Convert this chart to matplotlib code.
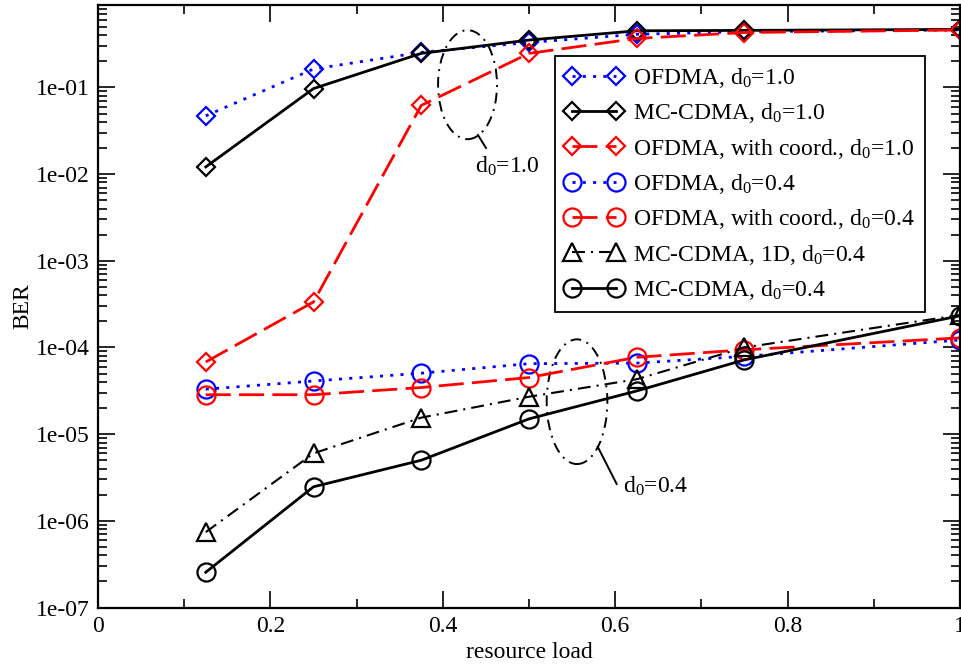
import matplotlib
matplotlib.use("Agg")
import matplotlib.pyplot as plt
from matplotlib.patches import Ellipse
from matplotlib.ticker import FixedLocator, FixedFormatter, LogLocator, NullFormatter, MultipleLocator

plt.rcParams['font.family'] = ['Liberation Serif', 'DejaVu Serif']
plt.rcParams['mathtext.fontset'] = 'custom'
plt.rcParams['mathtext.rm'] = 'Liberation Serif'
plt.rcParams['mathtext.it'] = 'Liberation Serif:italic'
plt.rcParams['mathtext.bf'] = 'Liberation Serif:bold'

# resource load values
load = [0.125, 0.25, 0.375, 0.5, 0.625, 0.75, 1.0]

# BER curves, d0 = 1.0
ofdma_d10 = [0.047, 0.163, 0.254, 0.33, 0.41, 0.44, 0.46]
mccdma_d10 = [0.0121, 0.097, 0.247, 0.352, 0.45, 0.455, 0.467]
ofdma_coord_d10 = [6.8e-5, 3.35e-4, 0.062, 0.247, 0.367, 0.43, 0.46]

# BER curves, d0 = 0.4
ofdma_d04 = [3.3e-5, 4.1e-5, 5.05e-5, 6.5e-5, 6.6e-5, 7.9e-5, 1.22e-4]
ofdma_coord_d04 = [2.85e-5, 2.85e-5, 3.45e-5, 4.5e-5, 7.7e-5, 9.4e-5, 1.29e-4]
mccdma_1d_d04 = [7.4e-7, 6.0e-6, 1.55e-5, 2.7e-5, 4.3e-5, 1.0e-4, 2.37e-4]
mccdma_d04 = [2.55e-7, 2.47e-6, 5.0e-6, 1.5e-5, 3.15e-5, 7.2e-5, 2.32e-4]

labels = [
    r"OFDMA, d$_\mathrm{0}$=1.0",
    r"MC-CDMA, d$_\mathrm{0}$=1.0",
    r"OFDMA, with coord., d$_\mathrm{0}$=1.0",
    r"OFDMA, d$_\mathrm{0}$=0.4",
    r"OFDMA, with coord., d$_\mathrm{0}$=0.4",
    r"MC-CDMA, 1D, d$_\mathrm{0}$=0.4",
    r"MC-CDMA, d$_\mathrm{0}$=0.4",
]

y_major = [1e-7, 1e-6, 1e-5, 1e-4, 1e-3, 1e-2, 1e-1]
y_major_labels = ["1e-07", "1e-06", "1e-05", "1e-04", "1e-03", "1e-02", "1e-01"]
x_major = [0, 0.2, 0.4, 0.6, 0.8, 1.0]
x_major_labels = ["0", "0.2", "0.4", "0.6", "0.8", "1"]

FS = 17

fig = plt.figure(figsize=(9.62, 6.66), dpi=100)
ax = fig.add_axes([98 / 962, 1 - 607.5 / 666, 862 / 962, 602.8 / 666])

dotted = (0, (1.1, 2.6))
dashed = (0, (9, 3))
dashdot = (0, (6.2, 2.9, 1.0, 2.9))
common = dict(mfc='none', mew=1.6, lw=2.0, clip_on=False)

ax.plot(load, ofdma_d10, color='blue', marker='D', ms=9, ls=dotted, label=labels[0], **common)
ax.plot(load, mccdma_d10, color='black', marker='D', ms=9, ls='-', label=labels[1], **common)
ax.plot(load, ofdma_coord_d10, color='red', marker='D', ms=9, ls=dashed, label=labels[2], **common)
ax.plot(load, ofdma_d04, color='blue', marker='o', ms=13, ls=dotted, label=labels[3], **common)
ax.plot(load, ofdma_coord_d04, color='red', marker='o', ms=13, ls=dashed, label=labels[4], **common)
ax.plot(load, mccdma_1d_d04, color='black', marker='^', ms=13, ls=dashdot, label=labels[5],
        mfc='none', mew=1.6, lw=1.5, clip_on=False)
ax.plot(load, mccdma_d04, color='black', marker='o', ms=13, ls='-', label=labels[6], **common)

ax.set_yscale('log')
ax.set_xlim(0, 1.0)
ax.set_ylim(1e-7, 0.9)

ax.yaxis.set_major_locator(FixedLocator(y_major))
ax.yaxis.set_major_formatter(FixedFormatter(y_major_labels))
ax.yaxis.set_minor_locator(LogLocator(base=10, subs=range(2, 10), numticks=20))
ax.yaxis.set_minor_formatter(NullFormatter())
ax.xaxis.set_major_locator(FixedLocator(x_major))
ax.xaxis.set_major_formatter(FixedFormatter(x_major_labels))
ax.xaxis.set_minor_locator(MultipleLocator(0.1))

ax.tick_params(which='both', direction='in', top=True, right=True, labelsize=FS)
ax.tick_params(which='major', length=12, width=1.2)
ax.tick_params(which='minor', length=6.5, width=1.2)
ax.tick_params(axis='x', which='major', pad=6)
ax.tick_params(axis='y', which='major', pad=6)
for s in ax.spines.values():
    s.set_linewidth(1.6)

ax.set_xlabel("resource load", fontsize=FS, labelpad=4)
ax.set_ylabel("BER", fontsize=FS, labelpad=2)

# grouping ellipses with leader lines
ell_style = dict(fill=False, ec='black', lw=1.4, ls=(0, (5.5, 3, 1, 3)), transform=ax.transAxes)
ax.add_patch(Ellipse((0.4287, 0.8673), 0.0684, 0.1808, **ell_style))
ax.add_patch(Ellipse((0.5557, 0.3414), 0.0704, 0.2069, **ell_style))
ax.plot([0.4408, 0.4501], [0.7838, 0.7623], color='black', lw=1.4, transform=ax.transAxes)
ax.plot([0.5797, 0.6017], [0.2668, 0.2049], color='black', lw=1.4, transform=ax.transAxes)
ax.text(0.4374, 0.7208, r"d$_\mathrm{0}$=1.0", fontsize=FS, va='baseline', ha='left',
        transform=ax.transAxes)
ax.text(0.6087, 0.1904, r"d$_\mathrm{0}$=0.4", fontsize=FS, va='baseline', ha='left',
        transform=ax.transAxes)

leg = ax.legend(loc='upper left', bbox_to_anchor=(0.530, 0.915), borderaxespad=0,
                fancybox=False, edgecolor='black', framealpha=1, fontsize=FS,
                handlelength=2.46, handletextpad=0.42, borderpad=0.42, labelspacing=0.48,
                numpoints=2)
leg.get_frame().set_linewidth(1.3)

fig.savefig("out.png", dpi=100)
